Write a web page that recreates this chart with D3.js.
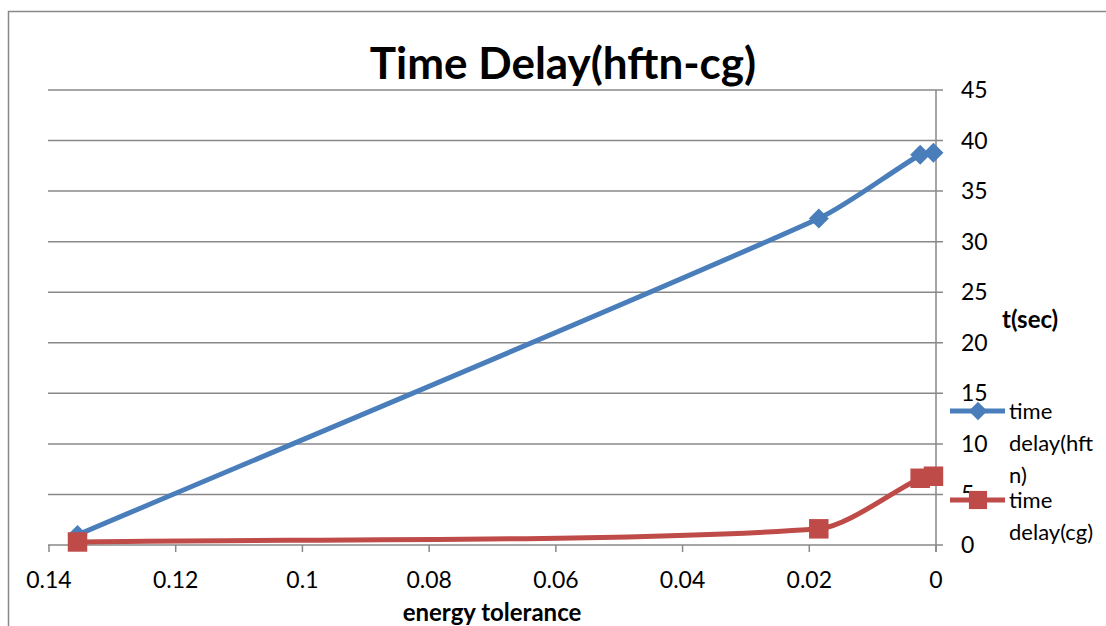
<!DOCTYPE html>
<meta charset="utf-8">
<html>
<style>
body { margin: 0; background: #fff; }
text { font-family: Lato, "Open Sans", sans-serif; fill: #000; }
.line { fill: none; stroke-width: 5px; }
</style>
<body>
<script src="https://d3js.org/d3.v7.min.js"></script>
<script>

// data
var tolerance = [0.1355, 0.0185, 0.0025, 0.0004];
var hftn = [1.0, 32.3, 38.6, 38.8];
var cg = [0.3, 1.6, 6.6, 6.8];
var xTicks = [0.14, 0.12, 0.1, 0.08, 0.06, 0.04, 0.02, 0];
var yTicks = [0, 5, 10, 15, 20, 25, 30, 35, 40, 45];

var width = 1106, height = 626;

var svg = d3.select("body").append("svg")
    .attr("width", width)
    .attr("height", height);

// chart border
svg.append("path")
    .attr("d", "M8.5," + height + "V11.5H" + width)
    .attr("fill", "none")
    .attr("stroke", "#888")
    .attr("stroke-width", 1.5);

var x = d3.scaleLinear().domain([0.14, 0]).range([49, 936]);
var y = d3.scaleLinear().domain([0, 45]).range([545, 90]);

// gridlines
svg.append("g").selectAll("line")
    .data(yTicks)
  .enter().append("line")
    .attr("x1", x(0.14) - 1).attr("x2", x(0) + 7)
    .attr("y1", function(d) { return y(d); })
    .attr("y2", function(d) { return y(d); })
    .attr("stroke", "#888").attr("stroke-width", 1.5);

// y axis on the right
svg.append("line")
    .attr("x1", x(0)).attr("x2", x(0))
    .attr("y1", y(45)).attr("y2", y(0) + 7)
    .attr("stroke", "#888").attr("stroke-width", 1.5);

// x axis ticks
svg.append("g").selectAll("line")
    .data(xTicks)
  .enter().append("line")
    .attr("x1", function(d) { return x(d); })
    .attr("x2", function(d) { return x(d); })
    .attr("y1", y(0)).attr("y2", y(0) + 7)
    .attr("stroke", "#888").attr("stroke-width", 1.5);

svg.append("g").selectAll("text")
    .data(xTicks)
  .enter().append("text")
    .attr("x", function(d) { return x(d); })
    .attr("y", 588)
    .attr("text-anchor", "middle")
    .style("font-size", "23px")
    .text(function(d) { return d; });

svg.append("g").selectAll("text")
    .data(yTicks)
  .enter().append("text")
    .attr("x", 961)
    .attr("y", function(d) { return y(d) + 8; })
    .style("font-size", "23px")
    .text(function(d) { return d; });

// titles
svg.append("text")
    .attr("x", 563).attr("y", 79)
    .attr("text-anchor", "middle")
    .style("font-size", "44px").style("font-weight", "bold")
    .text("Time Delay(hftn-cg)");

svg.append("text")
    .attr("x", 492).attr("y", 621)
    .attr("text-anchor", "middle")
    .style("font-size", "24px").style("font-weight", "bold")
    .text("energy tolerance");

svg.append("text")
    .attr("x", 1002).attr("y", 328)
    .style("font-size", "24px").style("font-weight", "bold")
    .text("t(sec)");

// smoothed line like a spreadsheet: tangent along neighbours, arm = share of segment
function smooth(vals) {
  var p = vals.map(function(d, i) { return [x(tolerance[i]), y(d)]; });
  var n = p.length, path = d3.path();
  var tan = p.map(function(pt, i) {
    var a = p[Math.max(i - 1, 0)], b = p[Math.min(i + 1, n - 1)];
    var dx = b[0] - a[0], dy = b[1] - a[1], l = Math.hypot(dx, dy);
    return [dx / l, dy / l];
  });
  path.moveTo(p[0][0], p[0][1]);
  for (var i = 0; i < n - 1; i++) {
    var a = p[i], b = p[i + 1];
    var len = Math.hypot(b[0] - a[0], b[1] - a[1]) / 4;
    path.bezierCurveTo(a[0] + tan[i][0] * len, a[1] + tan[i][1] * len,
                       b[0] - tan[i + 1][0] * len, b[1] - tan[i + 1][1] * len,
                       b[0], b[1]);
  }
  return path.toString();
}

var series = [
  {name: ["time", "delay(hft", "n)"], vals: hftn, color: "#4a7ebb", shape: d3.symbolSquare, rot: 45, size: 200, lsize: 170, ly: 411},
  {name: ["time", "delay(cg)"], vals: cg, color: "#be4b48", shape: d3.symbolSquare, rot: 0, size: 380, lsize: 330, ly: 500}
];

series.forEach(function(s) {
  svg.append("path")
      .attr("class", "line")
      .attr("stroke", s.color)
      .attr("d", smooth(s.vals));

  svg.append("g").selectAll("path")
      .data(s.vals)
    .enter().append("path")
      .attr("transform", function(d, i) { return "translate(" + x(tolerance[i]) + "," + y(d) + ") rotate(" + s.rot + ")"; })
      .attr("d", d3.symbol().type(s.shape).size(s.size))
      .attr("fill", s.color);
});

// legend
series.forEach(function(s) {
  var g = svg.append("g");
  g.append("line")
      .attr("x1", 950).attr("x2", 1005)
      .attr("y1", s.ly).attr("y2", s.ly)
      .attr("stroke", s.color).attr("stroke-width", 5);
  g.append("path")
      .attr("transform", "translate(978," + s.ly + ") rotate(" + s.rot + ")")
      .attr("d", d3.symbol().type(s.shape).size(s.lsize))
      .attr("fill", s.color);
  g.selectAll("text")
      .data(s.name)
    .enter().append("text")
      .attr("x", 1009)
      .attr("y", function(d, i) { return s.ly + 8 + i * 32; })
      .style("font-size", "22px")
      .text(function(d) { return d; });
});

</script>
</body>
</html>
